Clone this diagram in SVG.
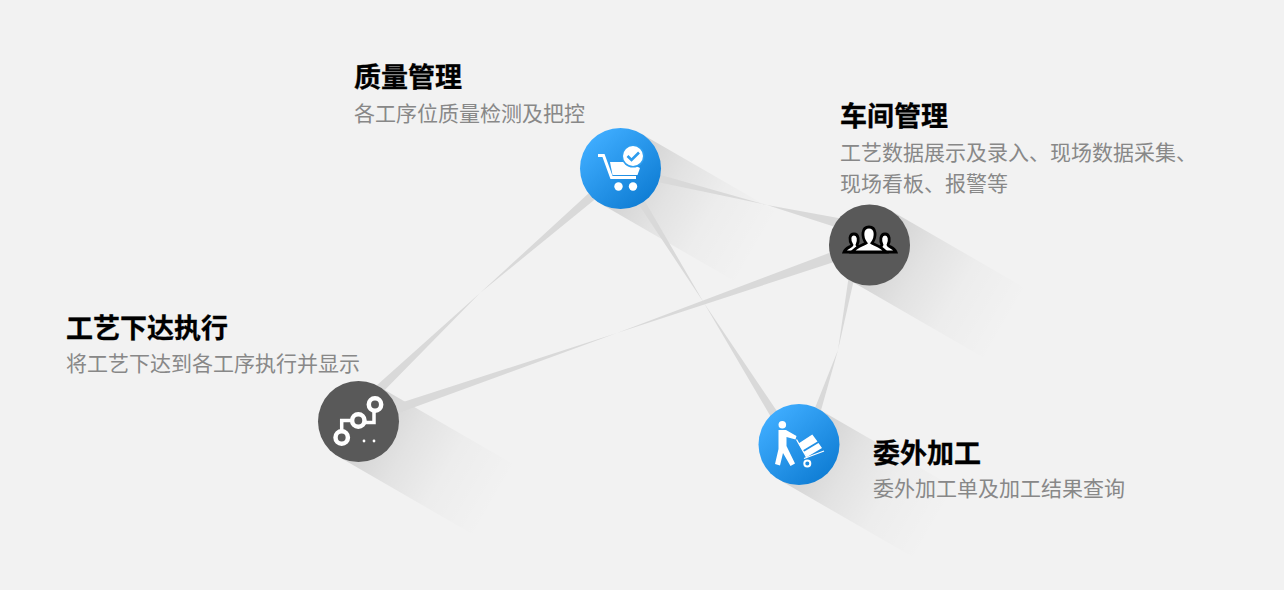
<svg xmlns="http://www.w3.org/2000/svg" width="1284" height="590" viewBox="0 0 1284 590">
<style>
text{font-family:"Noto Sans CJK SC","Noto Sans",sans-serif}
.t{font-size:27px;font-weight:700;fill:#000;stroke:#000;stroke-width:.3px}
.s{font-size:21px;fill:#888}
.lk{fill:#d9d9d9}
.sh{fill:url(#shade)}
.dark{fill:#595959}
.blue{fill:url(#blue)}
.w{fill:#fff}
.wl{fill:none;stroke:#fff}
</style>
<defs>
<linearGradient id="shade"><stop offset="0" stop-color="#000" stop-opacity=".14"/><stop offset=".27" stop-color="#000" stop-opacity=".065"/><stop offset=".5" stop-color="#000" stop-opacity=".022"/><stop offset=".8" stop-color="#000" stop-opacity="0"/></linearGradient>
<linearGradient id="blue" x1=".15" y1=".1" x2=".85" y2=".9"><stop offset="0" stop-color="#3fadff"/><stop offset="1" stop-color="#0f7dd4"/></linearGradient>
</defs>
<rect width="1284" height="590" fill="#f2f2f2"/>
<g id="shadows">
<rect class="sh" x="0" y="-40.500" width="200" height="81" transform="translate(620.500 168.500) rotate(30)"/>
<rect class="sh" x="0" y="-40.500" width="200" height="81" transform="translate(869.500 245) rotate(30)"/>
<rect class="sh" x="0" y="-40.500" width="200" height="81" transform="translate(358.500 421.500) rotate(30)"/>
<rect class="sh" x="0" y="-40.500" width="200" height="81" transform="translate(799 444.500) rotate(30)"/>
</g>
<g id="connectors">
<polygon class="lk" points="616.800,167.500 624.200,175.500 480,293 362.200,413 354.800,405 480,293"/>
<polygon class="lk" points="621.800,164 619.200,174 767,205 867.800,237.500 871.200,224 767,205"/>
<polygon class="lk" points="616.500,171 624.500,166 704,303 797.500,441.500 788.500,447 704,303"/>
<polygon class="lk" points="356.700,417 360.300,427 617,333 871.500,249.800 867.500,238.500 617,333"/>
<polygon class="lk" points="853.500,244 861.500,246 838,350 811,445.800 801,443.200 838,350"/>
</g>
<g id="node-quality">
<circle class="blue" cx="620.500" cy="168.500" r="40.500"/>
<path class="wl" stroke-width="3" d="M598 155.500H603.500L611.500 177.500H636"/>
<path class="w" d="M610 162H628L640 168L637.500 175H612.500Z"/>
<circle class="w" cx="618.500" cy="186.500" r="4.200"/>
<circle class="w" cx="633" cy="186.500" r="4.200"/>
<circle cx="633" cy="156" r="11.500" fill="#2f9ff0"/>
<circle class="w" cx="633" cy="156" r="10"/>
<path fill="none" stroke="#2d9cee" stroke-width="2.600" d="M627.500 156L631.500 160L639 152.500"/>
<text class="t" x="354" y="87">质量管理</text>
<text class="s" x="354" y="121">各工序位质量检测及把控</text>
</g>
<g id="node-workshop">
<circle class="dark" cx="869.500" cy="245" r="40.500"/>
<path fill="#fff" stroke="#000" stroke-width="2.800" d="M844 252C846 247 851.500 247 852 245C849 241 849 234 854 234C859 234 859 241 857 245C857.500 247 860 247.500 862 248L877 248C879 247.500 881.500 247 882 245C880 241 880 234 885 234C890 234 890 241 888 245C888.500 247 894 247 896 252Z"/>
<path fill="#fff" stroke="#000" stroke-width="2.800" d="M852 252C857 246 863 245 866 243C861.500 237 861.500 227 869 227C876.500 227 876.500 237 872 243C875 245 881 246 886 252Z"/>
<text class="t" x="840" y="126">车间管理</text>
<text class="s" x="840" y="160">工艺数据展示及录入、现场数据采集、</text>
<text class="s" x="840" y="191">现场看板、报警等</text>
</g>
<g id="node-process">
<circle class="dark" cx="358.500" cy="421.500" r="40.500"/>
<path class="wl" stroke-width="3.500" d="M341.700 430V420.500H352M365 422.500H374V411"/>
<circle class="wl" stroke-width="4.500" cx="341.700" cy="437.500" r="6.200"/>
<circle class="wl" stroke-width="4.500" cx="358.300" cy="420.500" r="6.200"/>
<circle class="wl" stroke-width="4.500" cx="375" cy="404.500" r="6.200"/>
<circle class="w" cx="364" cy="441" r="1.400"/>
<circle class="w" cx="374" cy="441" r="1.400"/>
<text class="t" x="66" y="338">工艺下达执行</text>
<text class="s" x="66" y="371">将工艺下达到各工序执行并显示</text>
</g>
<g id="node-outsource">
<circle class="blue" cx="799" cy="444.500" r="40.500"/>
<circle class="w" cx="782.300" cy="424.700" r="3.800"/>
<path class="w" d="M778.500 430H786L796.500 436L795.500 439.500L786.500 437V446L795 463.500L790.500 466L783 453L780 465.500L775 464L778.500 449Z"/>
<path class="wl" stroke-width="1.300" d="M796.500 439.500L807 458M804 458.500L824 451"/>
<circle class="wl" stroke-width="2" cx="807.300" cy="463.500" r="3"/>
<path class="w" d="M798.500 443.500L812.300 434.500L817.500 441.500L802.500 450.500ZM803.500 452L818.500 443L822 448L807 457Z"/>
<text class="t" x="873" y="463">委外加工</text>
<text class="s" x="873" y="496">委外加工单及加工结果查询</text>
</g>
</svg>
